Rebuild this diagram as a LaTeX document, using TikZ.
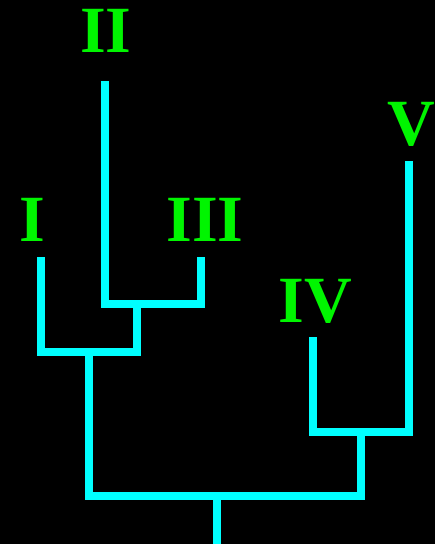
\documentclass[tikz,border=0pt]{standalone}
\usepackage{fontspec}
\setmainfont{Liberation Serif}
\usepackage{xcolor}
\usepackage{tikz}
\definecolor{branchcyan}{RGB}{0,255,255}
\definecolor{labelgreen}{RGB}{0,245,0}

\begin{document}
\begin{tikzpicture}[
  x=1pt, y=-1pt,
  branch/.style={draw=branchcyan, line width=8pt, line join=miter},
  leaflabel/.style={anchor=base, inner sep=0pt, text=labelgreen, font=\fontsize{66}{66}\selectfont\bfseries}
]
\fill[black] (0,0) rectangle (435,544);
\useasboundingbox (0,0) rectangle (435,544);
\coordinate (tipI) at (41,257);
\coordinate (tipII) at (105,81);
\coordinate (tipIII) at (201,257);
\coordinate (tipIV) at (313,337);
\coordinate (tipV) at (409,161);
\coordinate (joinA) at (137,304);
\coordinate (joinB) at (89,352);
\coordinate (joinC) at (361,432);
\coordinate (joinD) at (217,496);
\coordinate (root) at (217,544);
\node[leaflabel] (labI) at (32,241) {I};
\node[leaflabel] (labII) at (106,52) {II};
\node[leaflabel] (labIII) at (205,241) {III};
\node[leaflabel] (labIV) at (315,322) {IV};
\node[leaflabel] (labV) at (411,145) {V};
\draw[branch] (tipII) |- (joinA) -| (tipIII);
\draw[branch] (tipI) |- (joinB) -| (joinA);
\draw[branch] (tipIV) |- (joinC) -| (tipV);
\draw[branch] (joinB) |- (joinD) -| (joinC);
\draw[branch] (joinD) -- (root);
\end{tikzpicture}
\end{document}
